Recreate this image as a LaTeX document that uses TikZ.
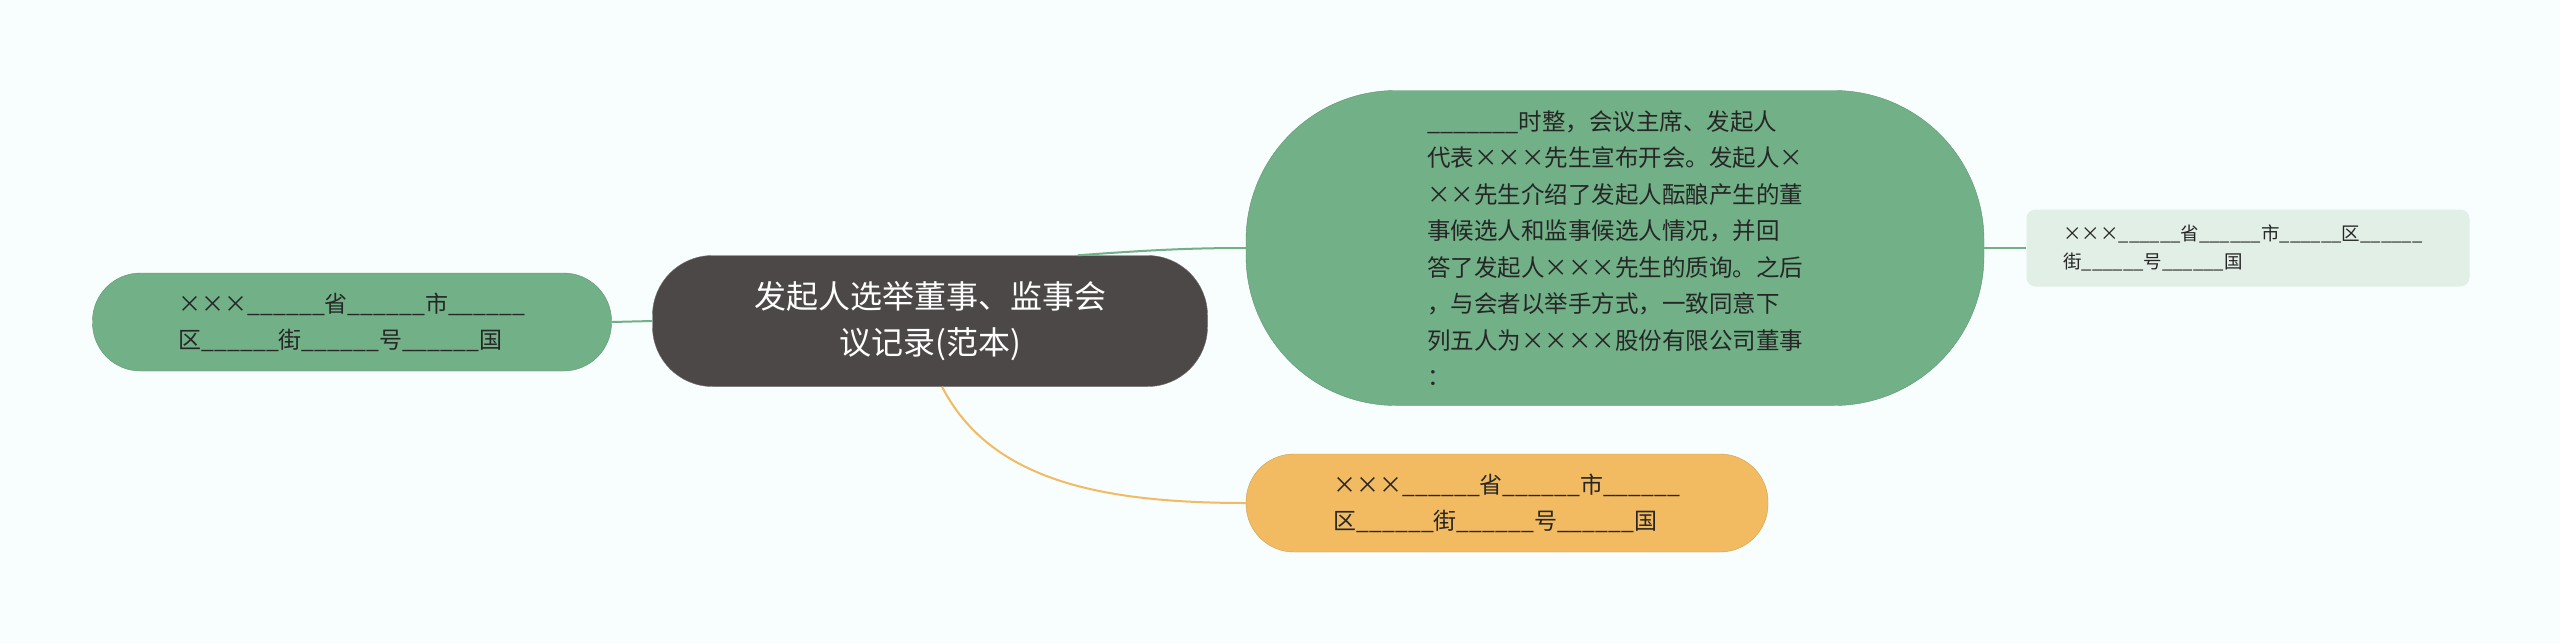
\documentclass[tikz,border=0pt]{standalone}
\usepackage{fontspec}
\setmainfont{Noto Sans CJK SC}
\begin{document}
\begin{tikzpicture}[x=1pt,y=-1pt,
  box/.style={inner sep=0pt,align=left,text=black!85},
  link/.style={line width=2pt}]
\definecolor{bg}{HTML}{F8FDFD}
\definecolor{gr}{HTML}{72B087}
\definecolor{dk}{HTML}{4D4848}
\definecolor{lg}{HTML}{E2EFE6}
\definecolor{og}{HTML}{F2BB61}
\fill[bg] (0,0) rectangle (2560,643);
\useasboundingbox (0,0) rectangle (2560,643);
\node[box,fill=dk,draw=dk!80,minimum width=555pt,minimum height=131pt,rounded corners=60pt,align=center,text=white,font=\fontsize{32}{46}\selectfont] (c) at (930,321) {发起人选举董事、监事会\\议记录(范本)};
\node[box,fill=gr,draw=gr!85!black,minimum width=519pt,minimum height=98pt,rounded corners=48pt,font=\fontsize{23}{36}\selectfont] (l) at (352,322) {×××\_\_\_\_\_\_省\_\_\_\_\_\_市\_\_\_\_\_\_\\区\_\_\_\_\_\_街\_\_\_\_\_\_号\_\_\_\_\_\_国};
\node[box,fill=gr,draw=gr!85!black,minimum width=738pt,minimum height=315pt,rounded corners=150pt,font=\fontsize{23.5}{36.5}\selectfont] (b) at (1615,248) {\_\_\_\_\_\_\_时整，会议主席、发起人\\代表×××先生宣布开会。发起人×\\××先生介绍了发起人酝酿产生的董\\事候选人和监事候选人情况，并回\\答了发起人×××先生的质询。之后\\，与会者以举手方式，一致同意下\\列五人为××××股份有限公司董事\\：};
\node[box,fill=lg,minimum width=443pt,minimum height=77pt,rounded corners=9pt,font=\fontsize{18.5}{28}\selectfont] (r) at (2248,248) {×××\_\_\_\_\_\_省\_\_\_\_\_\_市\_\_\_\_\_\_区\_\_\_\_\_\_\\街\_\_\_\_\_\_号\_\_\_\_\_\_国\hspace*{190pt}};
\node[box,fill=og,draw=og!85!black,minimum width=522pt,minimum height=98pt,rounded corners=48pt,font=\fontsize{23}{36}\selectfont] (o) at (1507,503) {×××\_\_\_\_\_\_省\_\_\_\_\_\_市\_\_\_\_\_\_\\区\_\_\_\_\_\_街\_\_\_\_\_\_号\_\_\_\_\_\_国};
\begin{scope}[on background layer/.style={}]
\end{scope}
\draw[link,gr] (c.west) -- (l.east);
\draw[link,gr] ([xshift=-130pt]c.north east) .. controls (1150,250) and (1190,248) .. (b.west);
\draw[link,gr] (b.east) -- (r.west);
\draw[link,og] ([xshift=12pt]c.south) .. controls (990,480) and (1100,503) .. (o.west);
\end{tikzpicture}
\end{document}
